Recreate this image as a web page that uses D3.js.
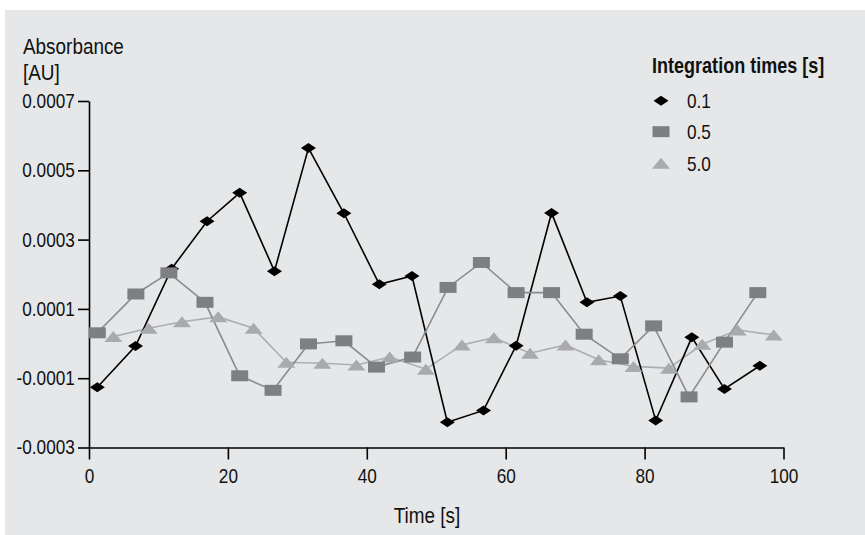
<!DOCTYPE html>
<html>
<head>
<meta charset="utf-8">
<script src="https://cdn.jsdelivr.net/npm/d3@7"></script>
<style>
  html, body { margin: 0; padding: 0; background: #ffffff; }
  svg { display: block; }
  text { font-family: "Liberation Sans", Arial, sans-serif; fill: #111; }
</style>
</head>
<body>
<svg id="chart" width="865" height="535"></svg>
<script>
// ---- Data ----
const seriesNames = ["0.1", "0.5", "5.0"];
const legendTitle = "Integration times [s]";

const time01 = [1.2, 6.7, 11.9, 17.0, 21.7, 26.7, 31.6, 36.7, 41.8, 46.5, 51.6, 56.8, 61.5, 66.6, 71.7, 76.5, 81.6, 86.8, 91.5, 96.6];
const abs01  = [-0.000126, -0.000007, 0.000216, 0.000353, 0.000435, 0.000209, 0.000564, 0.000376, 0.000171, 0.000195,
                -0.000227, -0.000193, -0.000006, 0.000377, 0.000119, 0.000137, -0.000222, 0.000018, -0.000131, -0.000064];

const time05 = [1.2, 6.75, 11.5, 16.7, 21.7, 26.5, 31.6, 36.7, 41.4, 46.6, 51.7, 56.5, 61.5, 66.6, 71.3, 76.5, 81.3, 86.4, 91.5, 96.3];
const abs05  = [0.000031, 0.000143, 0.000204, 0.000119, -0.000093, -0.000135, -0.000001, 0.000008, -0.000068, -0.000039,
                0.000162, 0.000234, 0.000147, 0.000147, 0.000027, -0.000044, 0.000051, -0.000154, 0.000004, 0.000147];

const time50 = [3.5, 8.6, 13.4, 18.6, 23.7, 28.4, 33.6, 38.5, 43.3, 48.5, 53.7, 58.3, 63.5, 68.6, 73.4, 78.4, 83.5, 88.3, 93.4, 98.6];
const abs50  = [0.000020, 0.000044, 0.000063, 0.000077, 0.000044, -0.000054, -0.000057, -0.000062, -0.000039, -0.000074,
                -0.000004, 0.000017, -0.000028, -0.000004, -0.000047, -0.000066, -0.000071, -0.000002, 0.000039, 0.000025];

const xTicks = [0, 20, 40, 60, 80, 100];
const yTicks = [-0.0003, -0.0001, 0.0001, 0.0003, 0.0005, 0.0007];
const yTickLabels = ["-0.0003", "-0.0001", "0.0001", "0.0003", "0.0005", "0.0007"];

// ---- Layout ----
const svg = d3.select("#chart");
svg.append("rect").attr("x", 5).attr("y", 10).attr("width", 860).attr("height", 525).attr("fill", "#e6e7e8");

const x = d3.scaleLinear().domain([0, 100]).range([89, 783.5]);
const y = d3.scaleLinear().domain([-0.0003, 0.0007]).range([447.5, 101]);

const diamond = (w, h) => `M0,${-h/2}L${w/2},0L0,${h/2}L${-w/2},0Z`;
const rectP = (w, h) => `M${-w/2},${-h/2}H${w/2}V${h/2}H${-w/2}Z`;
const tri = (w, h) => `M0,${-h/2}L${w/2},${h/2}L${-w/2},${h/2}Z`;

const series = [
  { name: seriesNames[2], t: time50, v: abs50, line: "#adaeb0", fill: "#a9aaac", shape: tri(18, 11) },
  { name: seriesNames[0], t: time01, v: abs01, line: "#000000", fill: "#000000", shape: diamond(15, 10) },
  { name: seriesNames[1], t: time05, v: abs05, line: "#8a8b8d", fill: "#7e7f82", shape: rectP(17, 11) }
];

const SX = 0.86; // horizontal condensing of the Arial-metric font

// ---- Axes ----
const yAxis = d3.axisLeft(y).tickValues(yTicks)
  .tickFormat((d, i) => yTickLabels[i]).tickSizeInner(11).tickSizeOuter(0).tickPadding(5.5);
const xAxis = d3.axisBottom(x).tickValues(xTicks)
  .tickFormat(d3.format("d")).tickSizeInner(12).tickSizeOuter(0).tickPadding(9);

const gy = svg.append("g").attr("transform", `translate(${x(0)},0)`).call(yAxis);
const gx = svg.append("g").attr("transform", `translate(0,${y(-0.0003)})`).call(xAxis);
[gx, gy].forEach(g => {
  g.selectAll("path, line").attr("stroke", "#000").attr("stroke-width", 1.6);
  g.selectAll("text").attr("font-size", 20).attr("fill", "#111")
    .attr("transform", `scale(${SX},1)`)
    .style("font-family", '"Liberation Sans", Arial, sans-serif');
});

// ---- Series ----
const lineGen = d3.line().x(d => x(d[0])).y(d => y(d[1]));
series.forEach(s => {
  const pts = s.t.map((t, i) => [t, s.v[i]]);
  svg.append("path").datum(pts).attr("d", lineGen)
    .attr("fill", "none").attr("stroke", s.line).attr("stroke-width", 1.6);
});
series.forEach(s => {
  const pts = s.t.map((t, i) => [t, s.v[i]]);
  svg.append("g").selectAll("path").data(pts).join("path")
    .attr("d", s.shape)
    .attr("transform", d => `translate(${x(d[0])},${y(d[1])})`)
    .attr("fill", s.fill);
});

function label(tx, ty, str, size, opts = {}) {
  const t = svg.append("text")
    .attr("transform", `translate(${tx},${ty}) scale(${opts.sx || SX},1)`)
    .attr("font-size", size).text(str);
  if (opts.anchor) t.attr("text-anchor", opts.anchor);
  if (opts.bold) t.attr("font-weight", "bold");
  return t;
}

// ---- Axis titles ----
label(23, 54, "Absorbance", 22);
label(23, 80, "[AU]", 22);
label(427, 523, "Time [s]", 22, { anchor: "middle" });

// ---- Legend ----
label(652, 73, legendTitle, 22, { bold: true, sx: 0.82 });
const legendItems = [series[1], series[2], series[0]];
const legendY = [100.7, 131.7, 163.3];
legendItems.forEach((s, i) => {
  svg.append("path").attr("d", s.shape).attr("fill", s.fill)
    .attr("transform", `translate(661,${legendY[i]})`);
  label(687, legendY[i] + 7.5, s.name, 20);
});
</script>
</body>
</html>
